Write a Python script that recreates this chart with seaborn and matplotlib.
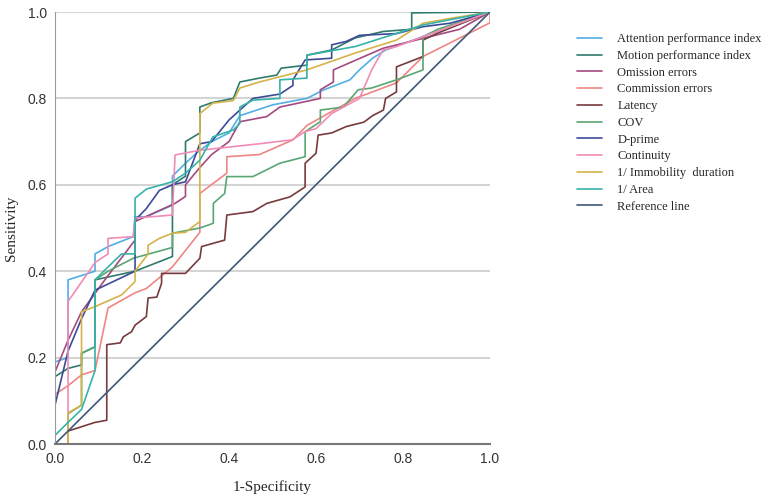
import numpy as np
import pandas as pd
import matplotlib
matplotlib.use("Agg")
import matplotlib.pyplot as plt
import seaborn as sns

# ROC curves: 1-specificity (x) and sensitivity (y)
attention_x = [0, 0, 0.03, 0.03, 0.092, 0.092, 0.122, 0.18, 0.184, 0.21, 0.27, 0.27, 0.30, 0.325, 0.36, 0.40, 0.425, 0.50, 0.579, 0.616, 0.678, 0.70, 0.73, 0.76, 0.846, 0.908, 1.0]
attention_y = [0, 0.19, 0.20, 0.38, 0.40, 0.44, 0.457, 0.48, 0.526, 0.526, 0.553, 0.62, 0.65, 0.673, 0.70, 0.72, 0.76, 0.785, 0.80, 0.819, 0.843, 0.866, 0.893, 0.912, 0.943, 0.966, 1.0]

motion_x = [0, 0, 0.03, 0.061, 0.061, 0.092, 0.092, 0.184, 0.27, 0.27, 0.30, 0.30, 0.333, 0.333, 0.36, 0.41, 0.425, 0.47, 0.51, 0.52, 0.579, 0.579, 0.636, 0.69, 0.755, 0.82, 0.82, 1.0]
motion_y = [0, 0.156, 0.175, 0.183, 0.21, 0.225, 0.38, 0.40, 0.434, 0.60, 0.62, 0.70, 0.72, 0.78, 0.79, 0.80, 0.838, 0.847, 0.854, 0.87, 0.877, 0.90, 0.912, 0.94, 0.955, 0.96, 0.998, 1.0]

omission_x = [0, 0, 0.03, 0.061, 0.122, 0.184, 0.184, 0.276, 0.30, 0.30, 0.333, 0.36, 0.40, 0.425, 0.487, 0.517, 0.61, 0.61, 0.64, 0.64, 0.754, 0.85, 0.93, 1.0]
omission_y = [0, 0.167, 0.24, 0.306, 0.39, 0.472, 0.515, 0.557, 0.573, 0.60, 0.64, 0.67, 0.70, 0.746, 0.758, 0.78, 0.80, 0.82, 0.838, 0.866, 0.916, 0.94, 0.96, 1.0]

commission_x = [0, 0, 0.03, 0.061, 0.092, 0.122, 0.184, 0.21, 0.27, 0.333, 0.333, 0.395, 0.395, 0.47, 0.547, 0.58, 0.69, 0.785, 0.846, 1.0, 1.0]
commission_y = [0, 0.115, 0.135, 0.16, 0.17, 0.315, 0.35, 0.36, 0.41, 0.49, 0.58, 0.627, 0.665, 0.67, 0.704, 0.738, 0.80, 0.836, 0.897, 0.975, 1.0]

latency_x = [0, 0.03, 0.03, 0.092, 0.119, 0.119, 0.15, 0.157, 0.176, 0.184, 0.21, 0.214, 0.234, 0.245, 0.245, 0.30, 0.333, 0.337, 0.39, 0.395,
             0.455, 0.487, 0.54, 0.575, 0.575, 0.60, 0.605, 0.636, 0.67, 0.71, 0.73, 0.755, 0.76, 0.785, 0.785, 0.846, 0.846, 0.877, 1.0]
latency_y = [0, 0, 0.03, 0.05, 0.055, 0.23, 0.234, 0.248, 0.26, 0.275, 0.295, 0.338, 0.34, 0.372, 0.395, 0.395, 0.43, 0.457, 0.472, 0.53,
             0.538, 0.557, 0.572, 0.595, 0.65, 0.673, 0.715, 0.72, 0.735, 0.745, 0.76, 0.773, 0.80, 0.815, 0.873, 0.897, 0.935, 0.95, 1.0]

cov_x = [0, 0.03, 0.03, 0.061, 0.061, 0.092, 0.092, 0.122, 0.18, 0.27, 0.27, 0.333, 0.364, 0.364, 0.39, 0.395, 0.455, 0.517, 0.575, 0.575, 0.61, 0.61, 0.663, 0.697, 0.728, 0.785, 0.846, 0.846, 0.88, 1.0]
cov_y = [0, 0, 0.07, 0.09, 0.21, 0.225, 0.38, 0.40, 0.43, 0.455, 0.488, 0.50, 0.511, 0.557, 0.58, 0.619, 0.619, 0.65, 0.665, 0.723, 0.746, 0.773, 0.78, 0.82, 0.824, 0.843, 0.866, 0.943, 0.96, 1.0]

dprime_x = [0, 0, 0.03, 0.061, 0.092, 0.184, 0.184, 0.21, 0.24, 0.27, 0.30, 0.333, 0.36, 0.40, 0.425, 0.455, 0.517, 0.547, 0.547, 0.575, 0.636, 0.636, 0.67, 0.70, 0.785, 0.846, 0.908, 1.0]
dprime_y = [0, 0.09, 0.215, 0.29, 0.356, 0.40, 0.518, 0.545, 0.587, 0.60, 0.607, 0.695, 0.70, 0.75, 0.773, 0.80, 0.81, 0.83, 0.843, 0.889, 0.893, 0.924, 0.932, 0.946, 0.95, 0.966, 0.974, 1.0]

continuity_x = [0, 0.03, 0.03, 0.092, 0.122, 0.122, 0.18, 0.184, 0.27, 0.276, 0.333, 0.47, 0.545, 0.575, 0.60, 0.636, 0.70, 0.728, 0.754, 0.785, 0.846, 1.0]
continuity_y = [0, 0, 0.33, 0.42, 0.44, 0.476, 0.48, 0.523, 0.53, 0.669, 0.68, 0.695, 0.704, 0.723, 0.73, 0.765, 0.80, 0.866, 0.912, 0.92, 0.943, 1.0]

immobility_x = [0, 0.03, 0.03, 0.061, 0.061, 0.092, 0.153, 0.184, 0.184, 0.214, 0.214, 0.24, 0.27, 0.30, 0.333, 0.333, 0.363, 0.41, 0.425, 0.47, 0.579, 0.69, 0.785, 0.846, 0.908, 1.0]
immobility_y = [0, 0, 0.072, 0.09, 0.306, 0.318, 0.345, 0.376, 0.40, 0.44, 0.46, 0.476, 0.488, 0.49, 0.515, 0.765, 0.789, 0.795, 0.824, 0.838, 0.866, 0.905, 0.935, 0.974, 0.985, 1.0]

area_x = [0, 0, 0.03, 0.061, 0.092, 0.092, 0.122, 0.153, 0.184, 0.184, 0.21, 0.27, 0.30, 0.333, 0.363, 0.41, 0.425, 0.425, 0.455, 0.517, 0.517, 0.579, 0.579, 0.69, 0.846, 1.0]
area_y = [0, 0.02, 0.05, 0.08, 0.17, 0.38, 0.41, 0.44, 0.44, 0.569, 0.59, 0.607, 0.627, 0.657, 0.711, 0.727, 0.742, 0.78, 0.796, 0.80, 0.843, 0.847, 0.90, 0.92, 0.97, 1.0]

ref_x = [0, 1]
ref_y = [0, 1]

labels = ["Attention performance index", "Motion performance index", "Omission errors",
          "Commission errors", "Latency", "COV", "D-prime", "Continuity",
          "1/ Immobility  duration", "1/ Area", "Reference line"]
colors = ["#52aee4", "#2f7a6c", "#a34a80", "#ee8783", "#773b3d", "#5aa672",
          "#3c4a98", "#f08cb6", "#d4b44a", "#35b3aa", "#3f5877"]

curves = [(attention_x, attention_y), (motion_x, motion_y), (omission_x, omission_y),
          (commission_x, commission_y), (latency_x, latency_y), (cov_x, cov_y),
          (dprime_x, dprime_y), (continuity_x, continuity_y), (immobility_x, immobility_y),
          (area_x, area_y), (ref_x, ref_y)]

frames = []
for name, (xs, ys) in zip(labels, curves):
    frames.append(pd.DataFrame({"fpr": xs, "tpr": ys, "curve": name}))
df = pd.concat(frames, ignore_index=True)

sns.set_style("white")
plt.rcParams["font.family"] = ["Liberation Sans", "DejaVu Sans"]

fig = plt.figure(figsize=(7.68, 4.98), dpi=100)
ax = fig.add_axes([55 / 768, 54 / 498, 435 / 768, 432 / 498])

sns.lineplot(data=df, x="fpr", y="tpr", hue="curve", hue_order=labels,
             palette=dict(zip(labels, colors)), sort=False, estimator=None,
             linewidth=1.2, ax=ax)

ax.set_xlim(0, 1)
ax.set_ylim(0, 1)
ticks = np.arange(0, 1.01, 0.2)
ax.set_xticks(ticks)
ax.set_yticks(ticks)
ax.set_xticklabels([f"{t:.1f}" for t in ticks], fontsize=10, color="#333333")
ax.set_yticklabels([f"{t:.1f}" for t in ticks], fontsize=10, color="#333333")
ax.tick_params(length=0, pad=6)
ax.yaxis.grid(True, color="#d4d4d4", linewidth=1.5)
ax.set_axisbelow(True)
for s in ["top", "right"]:
    ax.spines[s].set_visible(False)
ax.spines["left"].set_color("#9a9a9a")
ax.spines["bottom"].set_color("#777777")
ax.spines["bottom"].set_linewidth(1.5)

ax.set_xlabel("1-Specificity", family="Liberation Serif", fontsize=11, labelpad=10)
ax.set_ylabel("Sensitivity", family="Liberation Serif", fontsize=11, labelpad=7)

handles, labs = ax.get_legend_handles_labels()
ax.legend(handles, labs, loc="upper left", bbox_to_anchor=(566 / 768, 1 - 22 / 498),
          bbox_transform=fig.transFigure, frameon=False, handlelength=2.0,
          labelspacing=0.38, handletextpad=1.2, prop={"family": "Liberation Serif", "size": 9})

fig.savefig("out.png", dpi=100)
